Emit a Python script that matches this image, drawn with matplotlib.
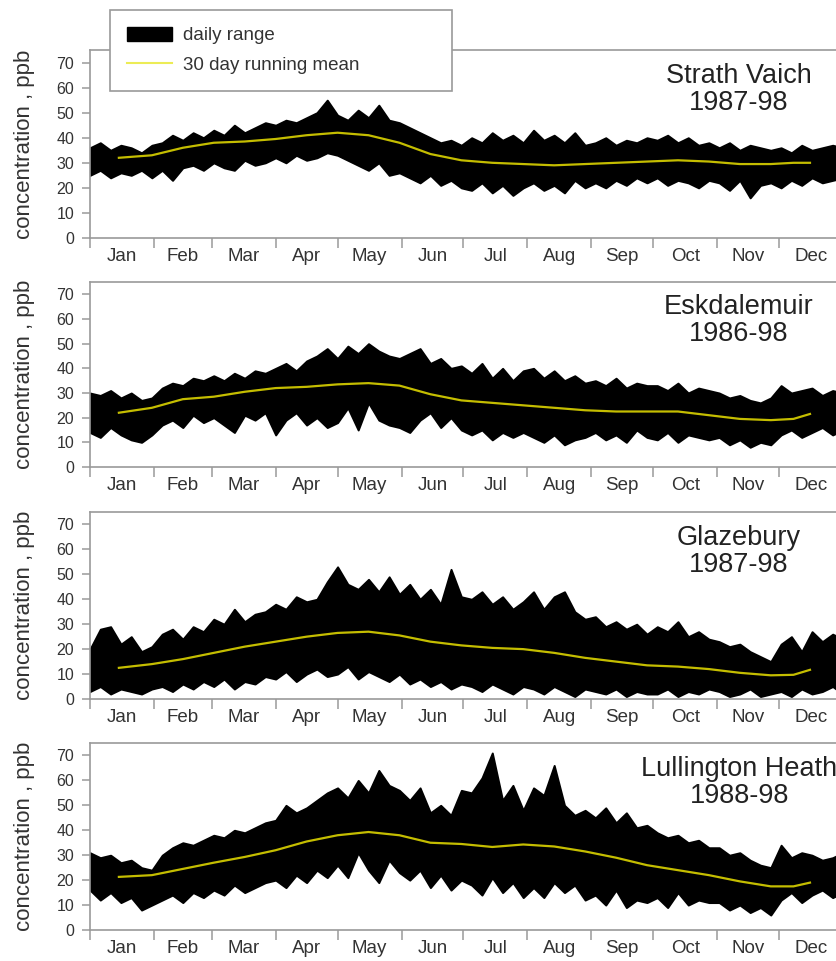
import matplotlib
matplotlib.use("Agg")
import matplotlib.pyplot as plt
from matplotlib.patches import Patch
from matplotlib.lines import Line2D
import numpy as np

plt.rcParams['font.family'] = ['Liberation Sans', 'DejaVu Sans']

# ---------------- data ----------------
months = ['Jan', 'Feb', 'Mar', 'Apr', 'May', 'Jun', 'Jul', 'Aug', 'Sep', 'Oct', 'Nov', 'Dec']
month_starts = [0, 31, 59, 90, 120, 151, 181, 212, 243, 273, 304, 334, 365]

# envelope sample days (every 5 days)
env_days = list(range(0, 366, 5))
# running-mean sample days
mean_days = [14, 30, 45, 60, 75, 90, 105, 120, 135, 150, 165, 180, 195, 210, 225, 240,
             255, 270, 285, 300, 315, 330, 341, 349]

sites = ['Strath Vaich\n1987-98', 'Eskdalemuir\n1986-98', 'Glazebury\n1987-98',
         'Lullington Heath\n1988-98']

# Strath Vaich
sv_upper = [36, 38, 35, 37, 36, 34, 37,
            38, 41, 39, 42, 40,
            43, 41, 45, 42, 44, 46,
            45, 47, 46, 48, 50, 55,
            49, 47, 51, 48, 53, 47, 46,
            44, 42, 40, 38, 39, 37,
            40, 38, 42, 39, 41, 38,
            43, 39, 41, 38, 42, 37,
            38, 40, 37, 39, 38, 40,
            39, 41, 38, 40, 37, 38,
            36, 38, 35, 37, 36, 35,
            36, 34, 37, 35, 36, 37, 36]
sv_lower = [25, 27, 24, 26, 25, 27, 24,
            27, 23, 28, 29, 27,
            30, 28, 27, 31, 29, 30,
            32, 30, 33, 31, 32, 34,
            33, 31, 29, 27, 30, 25, 26,
            24, 22, 25, 21, 23, 20,
            19, 22, 18, 21, 17, 20,
            22, 19, 21, 18, 23, 20,
            22, 20, 23, 21, 24, 22,
            24, 21, 23, 22, 20, 23,
            22, 19, 23, 16, 21, 22,
            20, 23, 21, 24, 22, 23, 24]
sv_mean = [32, 33, 36, 38, 38.5, 39.5, 41, 42, 41, 38, 33.5, 31, 30, 29.5, 29, 29.5,
           30, 30.5, 31, 30.5, 29.5, 29.5, 30, 30]

# Eskdalemuir
ek_upper = [30, 29, 31, 28, 30, 27, 28,
            32, 34, 33, 36, 35,
            37, 35, 38, 36, 39, 38,
            40, 42, 39, 43, 45, 48,
            44, 49, 46, 50, 47, 45, 44,
            46, 48, 42, 44, 40, 41,
            38, 42, 36, 40, 35, 39,
            40, 36, 39, 35, 37, 34,
            35, 33, 36, 32, 34, 33,
            33, 31, 34, 30, 32, 31,
            30, 28, 29, 27, 26, 28,
            33, 30, 31, 32, 29, 31, 30]
ek_lower = [14, 12, 16, 13, 11, 10, 13,
            17, 19, 16, 21, 18,
            20, 17, 14, 21, 19, 22,
            13, 19, 22, 17, 20, 16,
            18, 24, 15, 26, 19, 17, 16,
            14, 19, 22, 16, 20, 15,
            13, 15, 11, 14, 12, 14,
            12, 10, 13, 9, 11, 12,
            14, 11, 13, 10, 15, 12,
            11, 14, 10, 13, 12, 11,
            12, 9, 11, 8, 10, 9,
            13, 15, 12, 14, 16, 13, 15]
ek_mean = [22, 24, 27.5, 28.5, 30.5, 32, 32.5, 33.5, 34, 33, 29.5, 27, 26, 25, 24, 23,
           22.5, 22.5, 22.5, 21, 19.5, 19, 19.5, 21.5]

# Glazebury
gz_upper = [20, 28, 29, 22, 25, 19, 21,
            26, 28, 24, 29, 27,
            32, 30, 36, 31, 34, 35,
            38, 36, 41, 39, 40, 47,
            53, 46, 44, 48, 43, 49, 42,
            46, 40, 44, 38, 52, 41,
            40, 43, 38, 41, 36, 39,
            43, 36, 41, 43, 35, 32,
            33, 29, 31, 28, 30, 26,
            29, 27, 31, 25, 27, 24,
            23, 21, 22, 19, 17, 15,
            22, 25, 19, 27, 23, 26, 24]
gz_lower = [3, 5, 2, 4, 3, 2, 4,
            5, 3, 6, 4, 7,
            5, 8, 4, 7, 6, 9,
            8, 11, 7, 10, 12, 9,
            10, 13, 8, 11, 9, 7, 10,
            6, 8, 5, 7, 4, 6,
            5, 3, 6, 4, 2, 5,
            4, 2, 5, 3, 1, 4,
            3, 2, 4, 1, 3, 2,
            2, 4, 1, 3, 2, 4,
            3, 1, 2, 4, 1, 2,
            3, 1, 4, 2, 3, 5, 2]
gz_mean = [12.5, 14, 16, 18.5, 21, 23, 25, 26.5, 27, 25.5, 23, 21.5, 20.5, 20, 18.5, 16.5,
           15, 13.5, 13, 12, 10.5, 9.5, 9.7, 11.7]

# Lullington Heath
lh_upper = [31, 29, 30, 27, 28, 25, 24,
            30, 33, 35, 34, 36,
            38, 37, 40, 39, 41, 43,
            44, 50, 47, 49, 52, 55,
            57, 53, 60, 55, 64, 58, 56,
            52, 57, 47, 50, 46, 56,
            55, 61, 71, 52, 58, 48,
            57, 54, 66, 50, 46, 48,
            45, 49, 43, 47, 41, 42,
            39, 37, 38, 35, 36, 33,
            33, 30, 31, 28, 26, 25,
            34, 29, 31, 30, 28, 29, 31]
lh_lower = [16, 12, 15, 11, 13, 8, 10,
            12, 14, 11, 15, 13,
            16, 14, 18, 15, 17, 19,
            20, 17, 22, 19, 24, 21,
            26, 21, 31, 24, 19, 28, 23,
            20, 24, 17, 22, 16, 20,
            18, 14, 21, 15, 19, 13,
            17, 13, 19, 15, 18, 12,
            14, 10, 16, 9, 12, 11,
            13, 9, 15, 10, 12, 11,
            11, 8, 10, 7, 9, 6,
            12, 15, 11, 14, 16, 13, 15]
lh_mean = [21.3, 22, 24.5, 27, 29.3, 32, 35.5, 38, 39.3, 38, 35, 34.5, 33.3, 34.3, 33.5, 31.5,
           29, 26, 24, 22, 19.5, 17.5, 17.5, 19]

uppers = [sv_upper, ek_upper, gz_upper, lh_upper]
lowers = [sv_lower, ek_lower, gz_lower, lh_lower]
means = [sv_mean, ek_mean, gz_mean, lh_mean]

# ---------------- layout ----------------
W, H = 837, 961
fig = plt.figure(figsize=(W / 100, H / 100), dpi=100)

panels_px = [(50, 238), (282, 467), (512, 699), (743, 930)]
left_px, right_px = 90, 843
grey = '#9a9a9a'
txt = '#333333'
mean_color = '#c4bd00'

mid_months = [(month_starts[i] + month_starts[i + 1]) / 2 for i in range(12)]

for i, (top, bot) in enumerate(panels_px):
    ax = fig.add_axes([left_px / W, 1 - bot / H, (right_px - left_px) / W, (bot - top) / H])
    ax.set_facecolor('none')
    ax.fill_between(env_days, lowers[i], uppers[i], color='black', edgecolor='black',
                    linewidth=1.4, zorder=2)
    ax.plot(mean_days, means[i], color=mean_color, lw=1.6, zorder=3)
    ax.set_xlim(0, 365)
    ax.set_ylim(0, 75)
    ax.set_yticks(range(0, 71, 10))
    ax.set_xticks(month_starts[:-1])
    ax.set_xticklabels([''] * 12)
    ax.set_xticks(mid_months, minor=True)
    ax.set_xticklabels(months, minor=True)
    ax.tick_params(axis='x', which='major', direction='out', length=7, width=1.1, color=grey)
    ax.tick_params(axis='x', which='minor', length=0, pad=7, labelsize=13.5, labelcolor=txt)
    ax.tick_params(axis='y', direction='out', length=5.5, width=1.1, color=grey,
                   labelsize=11.5, labelcolor=txt, pad=6)
    for s in ['top', 'left', 'bottom']:
        ax.spines[s].set_color(grey)
        ax.spines[s].set_linewidth(1.2)
    ax.spines['right'].set_visible(False)
    ax.set_ylabel('concentration , ppb', fontsize=16, color=txt)
    ax.yaxis.set_label_coords((35 - left_px) / (right_px - left_px), 0.5)
    ax.text(0.862, 0.79, sites[i], transform=ax.transAxes, ha='center', va='center',
            fontsize=19.5, color='#222222', linespacing=1.05, zorder=4)

handles = [Patch(facecolor='black', edgecolor='black'),
           Line2D([0], [0], color='#ecec55', lw=1.5)]
labels = ['daily range', '30 day running mean']
leg = fig.legend(handles, labels, loc='upper left',
                 bbox_to_anchor=(110 / W, 0, 342 / W, 1 - 10 / H), mode='expand',
                 fontsize=13.5, frameon=True, fancybox=False, edgecolor=grey,
                 framealpha=1, borderpad=0.9, labelspacing=0.65,
                 handlelength=2.4, handleheight=0.75, handletextpad=0.6, borderaxespad=0)
leg.get_frame().set_linewidth(1.2)
for t in leg.get_texts():
    t.set_color(txt)

fig.savefig('out.png', dpi=100)
